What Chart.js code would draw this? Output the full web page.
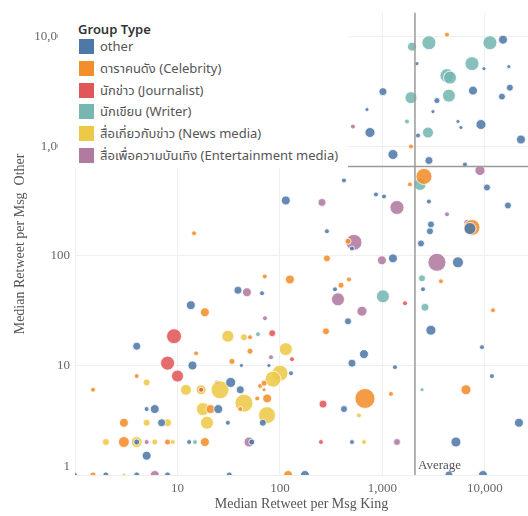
<!DOCTYPE html>
<html>
<head>
<meta charset="utf-8">
<script src="https://cdn.jsdelivr.net/npm/chart.js@4"></script>
<style>
  html, body { margin: 0; padding: 0; background: #fff; }
  #wrap { position: relative; width: 528px; height: 516px; }
  #legend {
    position: absolute; left: 58px; top: 10px; width: 290px; height: 158px;
    background: #fff; font-family: "Noto Sans Thai", "Noto Sans", "DejaVu Sans", sans-serif;
    font-size: 13px; color: #555;
  }
  #legend .title { position: absolute; left: 20px; top: 10px; font-weight: 600; color: #333; }
  #legend .row { position: absolute; left: 21px; height: 16px; line-height: 16px; white-space: nowrap; }
  #legend .sw { display: inline-block; width: 15px; height: 15px; vertical-align: top; margin-right: 6px; }
</style>
</head>
<body>
<div id="wrap">
  <canvas id="chart" width="528" height="516"></canvas>
  <div id="legend"></div>
</div>
<script>
// group names and colours (Tableau 10)
const groups = [
  "other",
  "ดาราคนดัง (Celebrity)",
  "นักข่าว (Journalist)",
  "นักเขียน (Writer)",
  "สื่อเกี่ยวกับข่าว (News media)",
  "สื่อเพื่อความบันเทิง (Entertainment media)"
];
const colors = ["#4e79a7", "#f28e2b", "#e15759", "#76b7b2", "#edc948", "#b07aa1"];

// [median retweet King, median retweet Other, messages]
const other = [
  [15000, 9430, 20], [2170, 5700, 4], [9780, 5130, 4], [17100, 5350, 4], [1010, 3165, 16],
  [3400, 2620, 9], [7640, 3235, 20], [14650, 2850, 12], [17500, 3440, 12], [706, 2170, 4],
  [3110, 2080, 4], [755, 1340, 25], [2220, 1257, 6], [5450, 1690, 4], [5830, 1487, 4],
  [9140, 1585, 25], [22450, 1156, 20], [1266, 844, 25], [2840, 744, 16], [6380, 684, 6],
  [421, 489, 6], [10460, 422, 12], [114, 321, 20], [864, 364, 6], [1034, 349, 6],
  [2840, 314, 6], [16760, 289, 12], [2970, 194, 12], [2905, 168, 12], [7140, 178, 36],
  [287, 168, 6], [504, 117, 6], [2375, 130, 12], [1266, 95, 20], [5450, 87.5, 30],
  [344, 49.6, 6], [2485, 49.6, 6], [66.8, 45.6, 6], [38.9, 48.6, 16], [461, 25.3, 12],
  [2970, 21, 25], [13.5, 35.5, 20], [660, 12.7, 20], [504, 10.5, 16], [1324, 9.65, 6],
  [9350, 14.7, 6], [78, 10, 4], [128, 8.5, 6], [11700, 8, 6], [421, 4, 12],
  [68, 3, 12], [21460, 3, 20], [504, 2, 6], [5210, 2, 25], [175, 1, 20],
  [4450, 1, 16], [9560, 1, 20], [4, 15, 16], [14, 10, 20], [42, 10, 4],
  [33, 7, 25], [41, 6, 16], [5, 4, 6], [6, 4, 20], [25, 4, 20],
  [7, 3, 16], [31, 3, 6], [4, 2, 9], [13, 2, 6], [53, 2, 9],
  [5, 1.5, 20], [1, 1, 6], [2, 1, 9], [4, 1, 9], [8, 1, 9], [32, 1, 9]
];
const celebrity = [
  [4260, 10480, 6], [1897, 998, 6], [2540, 532, 64], [1855, 450, 6], [7470, 182, 64],
  [461, 136, 9], [287, 95, 12], [71, 65, 6], [125, 61, 20], [471, 61, 6],
  [394, 54, 9], [3720, 58.7, 6], [11970, 31.9, 6], [281, 20.5, 12], [14.5, 161, 6],
  [18.5, 30.6, 20], [15.2, 12.9, 6], [51, 18.1, 6], [51, 13.5, 9], [34, 10.9, 9],
  [4, 8, 6], [1.5, 6, 6], [64, 6.5, 6], [70, 6.9, 9], [41, 4, 6],
  [60, 5, 6], [75, 5, 20], [21, 4, 20], [3, 3, 20], [3, 2, 30],
  [8, 2, 9], [18.5, 2, 20], [1.5, 1, 9], [120, 1, 20], [675, 5, 100],
  [1210, 5.5, 6], [6530, 6, 25], [70, 6, 4]
];
const journalist = [
  [9.25, 18.5, 56], [8, 10.5, 49], [10, 8, 36], [84, 19.7, 12], [131, 11.4, 6],
  [263, 4.44, 16], [251, 2, 6], [1659, 37, 6], [17, 6, 6]
];
const writer = [
  [1940, 8140, 20], [2840, 8850, 49], [11190, 8850, 49], [7470, 5700, 49], [4260, 4430, 49],
  [4560, 4250, 42], [1897, 2790, 36], [4450, 2910, 42], [1734, 1690, 6], [2780, 1340, 30],
  [2322, 450, 36], [2430, 62.5, 12], [1010, 42.8, 42], [2600, 34, 16], [61, 19.3, 6],
  [14.8, 2, 6], [2430, 6, 4]
];
const newsMedia = [
  [31, 18.5, 36], [44.5, 18.1, 12], [114, 14.1, 42], [100, 8.5, 64], [85.5, 7.5, 64],
  [5, 7, 12], [12.1, 6, 30], [17, 6, 25], [26, 6, 81], [44.5, 4.53, 81],
  [17.7, 4, 42], [74.7, 3.52, 72], [5, 3, 12], [8, 3, 16], [19.4, 3, 42],
  [2, 2, 12], [4, 2, 30], [6, 2, 9], [9, 2, 6], [3, 1, 4],
  [590, 3.5, 6], [660, 2, 6]
];
const entertainment = [
  [515, 1518, 6], [8940, 603, 25], [257, 308, 16], [1385, 277, 49], [4260, 240, 6],
  [6670, 202, 9], [527, 133, 64], [988, 91.2, 20], [3400, 87.5, 81], [368, 40.2, 42],
  [631, 31.3, 25], [71.4, 27, 6], [47.6, 46.6, 20], [81.7, 11.9, 6], [24.3, 7, 6],
  [5, 2, 6], [50, 2, 25], [1385, 2, 12], [6, 1, 20]
];
const series = [other, celebrity, journalist, writer, newsMedia, entertainment];

const decadeTicks = [1, 10, 100, 1000, 10000];
const avgKing = 2075;
const avgOther = 656;

// legend box (sits over the plot, like the original)
const legend = document.getElementById("legend");
legend.innerHTML = '<div class="title">Group Type</div>' + groups.map((g, i) =>
  '<div class="row" style="top:' + (29 + i * 21.8) + 'px"><span class="sw" style="background:' +
  colors[i] + '"></span>' + g + '</div>').join("");

function alpha(hex, a) {
  const n = parseInt(hex.slice(1), 16);
  return "rgba(" + (n >> 16) + "," + ((n >> 8) & 255) + "," + (n & 255) + "," + a + ")";
}

const serif = "Liberation Serif";

// average reference lines, plus the bottom "1" label nudged up like Tableau does
const refLines = {
  id: "refLines",
  afterDatasetsDraw(chart) {
    const { ctx, chartArea: a, scales: { x, y } } = chart;
    const px = x.getPixelForValue(avgKing);
    const py = y.getPixelForValue(avgOther);
    ctx.save();
    ctx.strokeStyle = "#9a9a9a";
    ctx.lineWidth = 1.5;
    ctx.beginPath();
    ctx.moveTo(px, a.top); ctx.lineTo(px, a.bottom);
    ctx.moveTo(a.left, py); ctx.lineTo(a.right, py);
    ctx.stroke();
    ctx.font = "13px " + serif;
    ctx.fillStyle = "#555";
    ctx.textBaseline = "middle";
    ctx.fillText("Average", px + 3, a.bottom - 9);
    ctx.fillStyle = "#666";
    ctx.textAlign = "right";
    ctx.fillText("1", a.left - 5, y.getPixelForValue(1) - 8);
    ctx.restore();
  }
};

new Chart(document.getElementById("chart"), {
  type: "bubble",
  data: {
    datasets: series.map((pts, i) => ({
      label: groups[i],
      data: pts.map(p => ({ x: p[0], y: p[1], r: Math.sqrt(p[2]) })),
      backgroundColor: alpha(colors[i], 0.88),
      borderColor: "rgba(255,255,255,0.8)",
      borderWidth: 1,
      clip: 0
    }))
  },
  options: {
    responsive: false,
    animation: false,
    layout: { autoPadding: false, padding: { top: 12, right: 0, left: 0, bottom: 0 } },
    plugins: { legend: { display: false }, tooltip: { enabled: false } },
    scales: {
      x: {
        type: "logarithmic",
        min: 1,
        max: 26300,
        afterBuildTicks: s => { s.ticks = decadeTicks.map(v => ({ value: v })); },
        afterFit: s => { s.height = 41; },
        grid: { color: "#efefef", drawTicks: false },
        border: { display: false },
        ticks: {
          padding: 6, autoSkip: false, maxRotation: 0, color: "#666",
          font: { family: serif, size: 13 },
          callback: v => v === 1 ? "" : v.toLocaleString("en-US")
        },
        title: {
          display: true, text: "Median Retweet per Msg King", color: "#555",
          font: { family: serif, size: 14 }, padding: { top: 0, bottom: 3 }
        }
      },
      y: {
        type: "logarithmic",
        min: 1,
        max: 16600,
        afterBuildTicks: s => { s.ticks = decadeTicks.map(v => ({ value: v })); },
        afterFit: s => { s.width = 75; },
        grid: { color: "#efefef", drawTicks: false },
        border: { display: false },
        ticks: {
          padding: 5, autoSkip: false, color: "#666",
          font: { family: serif, size: 13 },
          callback: v => v === 1 ? "" : v.toLocaleString("en-US")
        },
        title: {
          display: true, text: "Median Retweet per Msg  Other", color: "#555",
          font: { family: serif, size: 14 }, padding: { top: 12, bottom: 0 }
        }
      }
    }
  },
  plugins: [refLines]
});
</script>
</body>
</html>
